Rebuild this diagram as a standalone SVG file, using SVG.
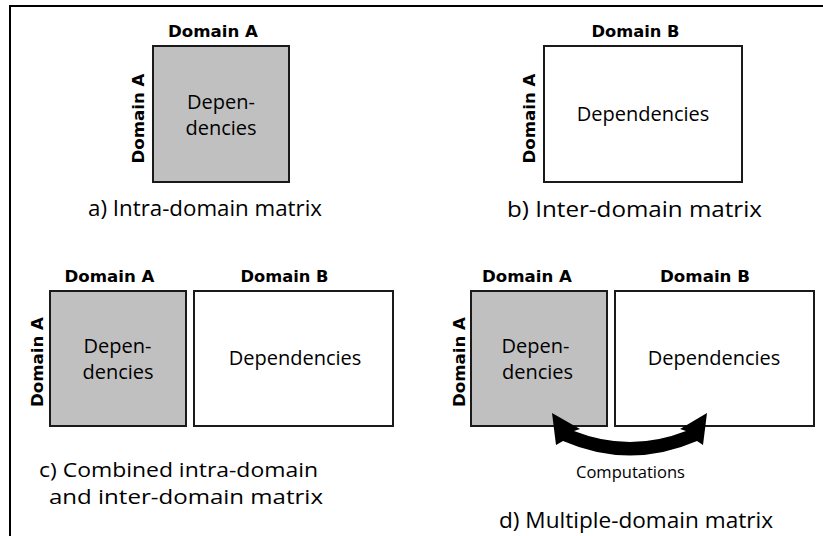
<svg xmlns="http://www.w3.org/2000/svg" width="823" height="536" viewBox="0 0 823 536">
  <style>
    .bg { fill: #ffffff; }
    .frame { fill: none; stroke: #000000; stroke-width: 2; }
    .intra { fill: #c0c0c0; stroke: #1a1a1a; stroke-width: 2; }
    .inter { fill: #ffffff; stroke: #1a1a1a; stroke-width: 2; }
    .dom { font-family: "DejaVu Sans", "Liberation Sans", sans-serif; font-weight: bold; font-size: 15px; fill: #000000; text-anchor: middle; }
    .dep { font-family: "Open Sans", "Liberation Sans", sans-serif; font-size: 20px; fill: #000000; text-anchor: middle; }
    .cap { font-family: "Open Sans", "Liberation Sans", sans-serif; font-size: 22px; fill: #000000; }
    .cap2 { font-family: "Open Sans", "Liberation Sans", sans-serif; font-size: 20px; fill: #000000; }
    .small { font-family: "Open Sans", "Liberation Sans", sans-serif; font-size: 16px; fill: #000000; }
    .arrow { fill: #000000; stroke: none; }
  </style>

  <rect class="bg" x="0" y="0" width="823" height="536"/>
  <!-- frame: top and left edges only -->
  <path class="frame" d="M 10 537 L 10 6 L 824 6"/>

  <!-- a) intra-domain matrix -->
  <g id="matrix-a">
    <rect class="intra" x="153" y="46" width="136" height="136"/>
    <text class="dom" x="213" y="37" textLength="90" lengthAdjust="spacingAndGlyphs">Domain A</text>
    <text class="dom" transform="translate(144,118.5) rotate(-90)" textLength="90" lengthAdjust="spacingAndGlyphs">Domain A</text>
    <text class="dep" x="221" y="109">Depen-</text>
    <text class="dep" x="221" y="135">dencies</text>
    <text class="cap" x="88" y="216" textLength="234" lengthAdjust="spacingAndGlyphs">a) Intra-domain matrix</text>
  </g>

  <!-- b) inter-domain matrix -->
  <g id="matrix-b">
    <rect class="inter" x="544" y="46" width="198" height="136"/>
    <text class="dom" x="635.5" y="37" textLength="88" lengthAdjust="spacingAndGlyphs">Domain B</text>
    <text class="dom" transform="translate(535,118.5) rotate(-90)" textLength="90" lengthAdjust="spacingAndGlyphs">Domain A</text>
    <text class="dep" x="643" y="121">Dependencies</text>
    <text class="cap" x="507" y="216.5" textLength="255" lengthAdjust="spacingAndGlyphs">b) Inter-domain matrix</text>
  </g>

  <!-- c) combined matrix -->
  <g id="matrix-c">
    <rect class="intra" x="50" y="291" width="136" height="135"/>
    <rect class="inter" x="194" y="291" width="199" height="135"/>
    <text class="dom" x="109.5" y="282" textLength="90" lengthAdjust="spacingAndGlyphs">Domain A</text>
    <text class="dom" x="284.5" y="282" textLength="88" lengthAdjust="spacingAndGlyphs">Domain B</text>
    <text class="dom" transform="translate(42.5,362) rotate(-90)" textLength="90" lengthAdjust="spacingAndGlyphs">Domain A</text>
    <text class="dep" x="117.5" y="353">Depen-</text>
    <text class="dep" x="118" y="379">dencies</text>
    <text class="dep" x="295" y="365">Dependencies</text>
    <text class="cap2" x="39" y="476.5" textLength="279" lengthAdjust="spacingAndGlyphs">c) Combined intra-domain</text>
    <text class="cap2" x="49" y="504" textLength="274" lengthAdjust="spacingAndGlyphs">and inter-domain matrix</text>
  </g>

  <!-- d) multiple-domain matrix -->
  <g id="matrix-d">
    <rect class="intra" x="471" y="291" width="136" height="135"/>
    <rect class="inter" x="615" y="291" width="199" height="135"/>
    <text class="dom" x="527" y="282" textLength="90" lengthAdjust="spacingAndGlyphs">Domain A</text>
    <text class="dom" x="705" y="282" textLength="90" lengthAdjust="spacingAndGlyphs">Domain B</text>
    <text class="dom" transform="translate(464.5,362) rotate(-90)" textLength="90" lengthAdjust="spacingAndGlyphs">Domain A</text>
    <text class="dep" x="535.5" y="353">Depen-</text>
    <text class="dep" x="537.5" y="379">dencies</text>
    <text class="dep" x="714" y="365">Dependencies</text>
    <text class="small" x="576" y="478" textLength="109" lengthAdjust="spacingAndGlyphs">Computations</text>
    <text class="cap" x="499" y="528" textLength="274" lengthAdjust="spacingAndGlyphs">d) Multiple-domain matrix</text>
  </g>

  <!-- curved double-headed arrow between the two blocks -->
  <g id="connectors">
    <path class="arrow" d="M 552 413 L 556 445 L 563 441 Q 630 470 697 441 L 703 445 L 707 413 L 680 429 L 686 431 Q 630 453 574 431 L 580 429 Z"/>
  </g>
</svg>
